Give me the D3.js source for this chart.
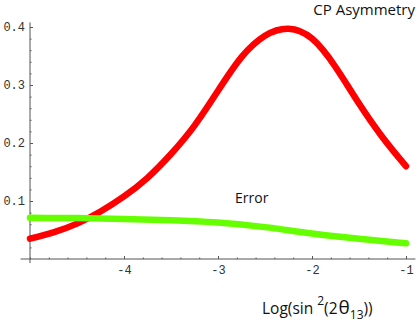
<!DOCTYPE html>
<html>
<head>
<meta charset="utf-8">
<script src="https://cdn.jsdelivr.net/npm/d3@7"></script>
<style>
  body { margin: 0; background: #fff; }
  svg { display: block; }
  .tick text { font-family: "Liberation Mono", "DejaVu Sans Mono", monospace; font-size: 12px; fill: #333; }
  .tick line { stroke: #555; }
  .lbl { font-family: "Open Sans", "Noto Sans", sans-serif; fill: #111; }
</style>
</head>
<body>
<div id="chart"></div>
<script>
// x = Log(sin^2(2 theta13))
const xs = [-5, -4.75, -4.5, -4.25, -4, -3.75, -3.5, -3.25, -3, -2.75, -2.5, -2.25, -2, -1.75, -1.5, -1.25, -1];
const cpAsym = [0.035, 0.046, 0.061, 0.082, 0.108, 0.140, 0.181, 0.23, 0.29, 0.348, 0.385, 0.397, 0.38, 0.331, 0.268, 0.21, 0.16];
const errX = [-5, -4.5, -4, -3.5, -3, -2.5, -2, -1.5, -1];
const errVals = [0.071, 0.0705, 0.069, 0.067, 0.063, 0.055, 0.044, 0.035, 0.027];
const xTicks = [-4, -3, -2, -1];
const yTicks = [0.1, 0.2, 0.3, 0.4];

const W = 416, H = 326;
const svg = d3.select('#chart').append('svg')
    .attr('width', W)
    .attr('height', H);

const x = d3.scaleLinear().domain([-5, -1]).range([30, 406]);
const y = d3.scaleLinear().domain([0, 0.4]).range([259, 27]);

// axis lines (a little past the data range, like the original)
svg.append('line')
    .attr('x1', x(-5.1)).attr('x2', x(-0.9))
    .attr('y1', y(0)).attr('y2', y(0))
    .attr('stroke', '#555');
svg.append('line')
    .attr('x1', x(-5)).attr('x2', x(-5))
    .attr('y1', y(-0.007)).attr('y2', y(0.408))
    .attr('stroke', '#555');

// minor ticks
svg.append('g')
    .attr('transform', `translate(0,${y(0)})`)
    .call(d3.axisBottom(x).tickValues(d3.range(-5, -0.99, 0.2)).tickSize(-1.5).tickFormat(''))
    .call(g => g.select('.domain').remove());
svg.append('g')
    .attr('transform', `translate(${x(-5)},0)`)
    .call(d3.axisLeft(y).tickValues(d3.range(0.02, 0.41, 0.02)).tickSize(-1.5).tickFormat(''))
    .call(g => g.select('.domain').remove());

// major ticks
svg.append('g')
    .attr('transform', `translate(0,${y(0)})`)
    .call(d3.axisBottom(x).tickValues(xTicks).tickSize(-3).tickPadding(6).tickFormat(d => '-' + Math.abs(d)))
    .call(g => g.select('.domain').remove());
svg.append('g')
    .attr('transform', `translate(${x(-5)},0)`)
    .call(d3.axisLeft(y).tickValues(yTicks).tickSize(-3).tickPadding(5).tickFormat(d3.format('.1f')))
    .call(g => g.select('.domain').remove());

const line = d3.line()
    .x(d => x(d[0]))
    .y(d => y(d[1]))
    .curve(d3.curveNatural);

svg.append('path')
    .datum(xs.map((v, i) => [v, cpAsym[i]]))
    .attr('d', line)
    .attr('fill', 'none')
    .attr('stroke', '#ff0000')
    .attr('stroke-width', 6.5)
    .attr('stroke-linecap', 'round');

svg.append('path')
    .datum(errX.map((v, i) => [v, errVals[i]]))
    .attr('d', line)
    .attr('fill', 'none')
    .attr('stroke', '#66ff00')
    .attr('stroke-width', 6.5)
    .attr('stroke-linecap', 'round');

svg.append('text')
    .attr('class', 'lbl')
    .attr('x', 415).attr('y', 15)
    .attr('text-anchor', 'end')
    .attr('font-size', 15)
    .text('CP Asymmetry');

svg.append('text')
    .attr('class', 'lbl')
    .attr('x', 235).attr('y', 203)
    .attr('font-size', 14)
    .text('Error');

const xl = svg.append('text')
    .attr('class', 'lbl')
    .attr('x', 262).attr('y', 314)
    .attr('font-size', 15.5);
xl.append('tspan').text('Log(sin ');
xl.append('tspan').attr('font-size', 12).attr('dy', -9).text('2');
xl.append('tspan').attr('dy', 9).text('(2');
xl.append('tspan').attr('font-size', 19).attr('dx', 1).text('θ');
xl.append('tspan').attr('font-size', 12).attr('dy', 5).text('13');
xl.append('tspan').attr('dy', -5).text('))');
</script>
</body>
</html>
